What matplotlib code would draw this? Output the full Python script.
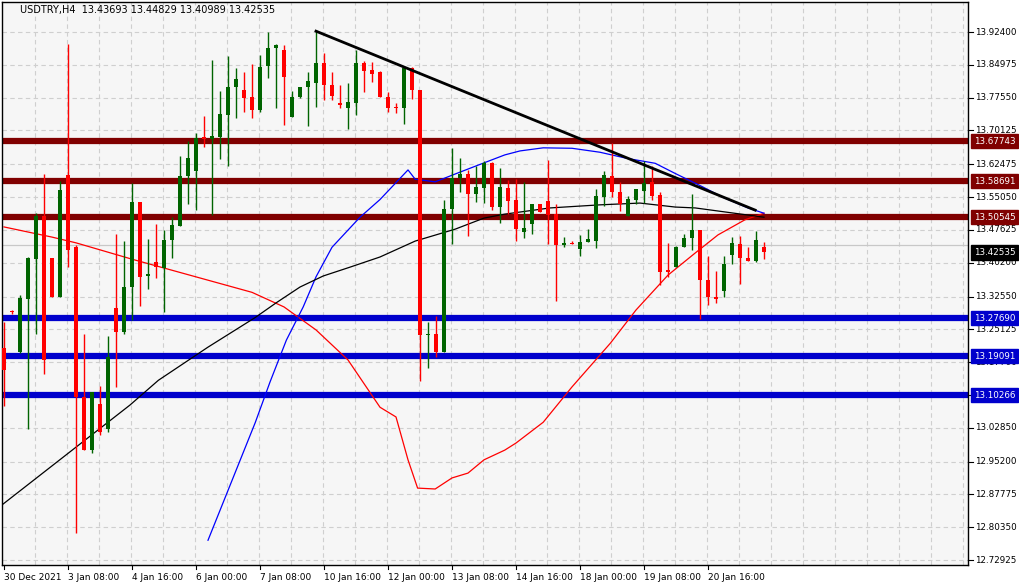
import matplotlib
matplotlib.use("Agg")
import matplotlib.pyplot as plt
import numpy as np

opens = [13.210,13.291,13.201,13.321,13.411,13.508,13.413,13.324,13.600,13.437,
         13.098,12.978,13.082,13.025,13.299,13.246,13.348,13.539,13.373,13.403,
         13.389,13.453,13.486,13.598,13.609,13.687,13.682,13.687,13.736,13.799,
         13.793,13.776,13.747,13.847,13.889,13.883,13.731,13.776,13.799,13.809,
         13.853,13.804,13.763,13.753,13.763,13.853,13.838,13.833,13.776,13.753,
         13.753,13.842,13.793,13.238,13.241,13.199,13.524,13.594,13.602,13.557,
         13.570,13.627,13.527,13.570,13.544,13.472,13.490,13.535,13.542,13.512,
         13.441,13.447,13.433,13.448,13.452,13.551,13.599,13.563,13.508,13.544,
         13.565,13.585,13.555,13.386,13.392,13.438,13.457,13.476,13.364,13.325,
         13.339,13.419,13.444,13.412,13.407,13.43693]
highs = [13.269,13.295,13.329,13.414,13.514,13.602,13.413,13.588,13.897,13.442,
         13.240,13.110,13.123,13.236,13.467,13.452,13.583,13.539,13.456,13.490,
         13.476,13.506,13.643,13.677,13.696,13.734,13.861,13.791,13.870,13.842,
         13.833,13.851,13.872,13.923,13.898,13.894,13.791,13.800,13.833,13.929,
         13.877,13.833,13.804,13.809,13.883,13.859,13.857,13.835,13.789,13.763,
         13.845,13.845,13.793,13.267,13.282,13.544,13.661,13.638,13.612,13.621,
         13.632,13.629,13.617,13.589,13.591,13.585,13.535,13.535,13.634,13.535,
         13.461,13.452,13.465,13.478,13.568,13.609,13.674,13.585,13.554,13.568,
         13.633,13.621,13.563,13.447,13.440,13.467,13.557,13.476,13.417,13.384,
         13.417,13.461,13.462,13.437,13.474,13.44829]
lows = [13.078,13.286,13.198,13.025,13.240,13.150,13.324,13.324,13.393,12.791,
        12.978,12.971,13.012,13.020,13.120,13.240,13.272,13.305,13.343,13.367,
        13.291,13.413,13.484,13.535,13.521,13.665,13.509,13.637,13.621,13.729,
        13.744,13.729,13.744,13.821,13.753,13.713,13.731,13.774,13.711,13.755,
        13.770,13.770,13.753,13.705,13.736,13.789,13.812,13.776,13.744,13.741,
        13.717,13.772,13.134,13.163,13.188,13.199,13.444,13.561,13.462,13.540,
        13.538,13.521,13.493,13.512,13.452,13.459,13.467,13.517,13.444,13.316,
        13.438,13.444,13.417,13.448,13.435,13.530,13.550,13.520,13.508,13.535,
        13.538,13.544,13.352,13.370,13.392,13.438,13.431,13.275,13.306,13.312,
        13.324,13.399,13.354,13.407,13.404,13.40989]
closes = [13.159,13.290,13.323,13.413,13.508,13.183,13.324,13.566,13.431,13.098,
          12.978,13.110,13.019,13.189,13.246,13.348,13.539,13.369,13.376,13.392,
          13.454,13.487,13.599,13.638,13.685,13.683,13.689,13.738,13.800,13.818,
          13.774,13.747,13.844,13.889,13.894,13.823,13.778,13.800,13.813,13.853,
          13.804,13.779,13.758,13.765,13.853,13.836,13.830,13.778,13.753,13.752,
          13.842,13.793,13.238,13.240,13.199,13.524,13.594,13.603,13.557,13.573,
          13.627,13.527,13.573,13.542,13.478,13.480,13.535,13.517,13.511,13.441,
          13.447,13.444,13.450,13.455,13.553,13.600,13.561,13.536,13.546,13.568,
          13.583,13.554,13.382,13.382,13.438,13.457,13.476,13.363,13.324,13.321,
          13.399,13.447,13.413,13.407,13.453,13.42535]

red_ma_x = [0,6,9,16,31,35,39,43,47,49,50.5,51.7,53.9,56,58,60,62.6,64,67.4,71,75.8,79,83,86.4,89.25,92.6,95]
red_ma_y = [13.483,13.460,13.447,13.410,13.335,13.302,13.250,13.182,13.075,13.053,12.956,12.892,12.890,12.915,12.926,12.956,12.978,12.994,13.041,13.121,13.220,13.295,13.374,13.424,13.465,13.499,13.514]
blue_ma_x = [25.5,31.4,33.25,35.3,37.4,39,41,44.5,47,50.5,51.4,53.9,56,60,62.6,64.5,67.4,71,74.5,77.9,79.5,81.4,83.9,87.3,89.75,93,95]
blue_ma_y = [12.774,13.040,13.132,13.227,13.302,13.370,13.437,13.505,13.545,13.612,13.591,13.585,13.600,13.628,13.646,13.655,13.662,13.661,13.652,13.638,13.633,13.627,13.604,13.574,13.551,13.526,13.514]
black_ma_x = [-0.25,15.75,19.3,25.5,31.4,34,37,39.9,43.25,47,51.4,56.4,60,62.6,68.25,74.5,79.5,83.9,86.4,95]
black_ma_y = [12.854,13.080,13.136,13.211,13.278,13.311,13.347,13.372,13.392,13.415,13.451,13.478,13.503,13.512,13.526,13.533,13.537,13.528,13.526,13.505]

trend_x = [39, 93.9]
trend_y = [13.926, 13.521]

res_levels = [13.67743, 13.58691, 13.50545]
sup_levels = [13.27690, 13.19091, 13.10266]
bid_level = 13.442
last_price = 13.42535

yticks = [13.92400,13.84975,13.77550,13.70125,13.62475,13.55050,13.47625,13.40200,
          13.32550,13.25125,13.17700,13.10275,13.02850,12.95200,12.87775,12.80350,12.72925]
xtick_idx = [0,8,16,24,32,40,48,56,64,72,80,88]
xtick_labels = ["30 Dec 2021","3 Jan 08:00","4 Jan 16:00","6 Jan 00:00","7 Jan 08:00",
                "10 Jan 16:00","12 Jan 00:00","13 Jan 08:00","14 Jan 16:00","18 Jan 00:00",
                "19 Jan 08:00","20 Jan 16:00"]

W, H = 1020, 584
fig = plt.figure(figsize=(W/100, H/100), dpi=100, facecolor="white")
ax = fig.add_axes([2/W, (H-565)/H, 966/W, 563/H])
ax.set_facecolor("#f6f6f6")
ax.set_xlim(-0.25, 120.5)
ax.set_ylim(12.718, 13.992)

for yt in yticks:
    ax.axhline(yt, color="#cfcfcf", lw=0.8, ls=(0, (4, 3)), zorder=0)
for xg in np.arange(4, 121, 4):
    ax.axvline(xg - 0.1, color="#cfcfcf", lw=0.8, ls=(0, (4, 3)), zorder=0)
ax.axhline(bid_level, color="#c8c8c8", lw=0.9, zorder=0)

for lv in res_levels:
    ax.axhline(lv, color="#800000", lw=4.5, zorder=1)
for lv in sup_levels:
    ax.axhline(lv, color="#0000cc", lw=4.5, zorder=1)

ax.plot(red_ma_x, red_ma_y, color="red", lw=0.9, zorder=2)
ax.plot(blue_ma_x, blue_ma_y, color="blue", lw=0.9, zorder=2)
ax.plot(black_ma_x, black_ma_y, color="black", lw=0.9, zorder=2)
ax.plot(trend_x, trend_y, color="black", lw=2, zorder=4)

for i, (o, h, l, c) in enumerate(zip(opens, highs, lows, closes)):
    col = "#006400" if c >= o else "#ff0000"
    ax.vlines(i, l, h, color=col, lw=1, zorder=3)
    bot = min(o, c); ht = max(abs(c - o), 0.002)
    ax.bar(i, ht, bottom=bot, width=0.62, color=col, edgecolor=col, lw=0, zorder=3)

ax.set_yticks([])
ax.set_xticks([])
for s in ax.spines.values():
    s.set_linewidth(1)
    s.set_color("black")

for yt in yticks:
    ax.annotate(f"{yt:.5f}", xy=(1, yt), xycoords=("axes fraction", "data"),
                xytext=(5, 0), textcoords="offset points", va="center", ha="left",
                fontsize=6.3, color="black", annotation_clip=False, zorder=5)
    ax.plot([120.5, 121.1], [yt, yt], color="black", lw=0.8, clip_on=False)
for lv, bg in [(v, "#800000") for v in res_levels] + [(v, "#0000cc") for v in sup_levels] + [(last_price, "black")]:
    ax.annotate(f"{lv:.5f}", xy=(1, lv), xycoords=("axes fraction", "data"),
                xytext=(4, 0), textcoords="offset points", va="center", ha="left",
                fontsize=6.3, color="white", annotation_clip=False, zorder=10,
                bbox=dict(boxstyle="square,pad=0.3", fc=bg, ec=bg))

for idx, lab in zip(xtick_idx, xtick_labels):
    ax.plot([idx, idx], [12.718, 12.708], color="black", lw=0.8, clip_on=False)
    ax.text(idx, 12.700, lab, fontsize=6.5, ha="left", va="top", color="black")

ax.text(2.0, 13.975, "USDTRY,H4  13.43693 13.44829 13.40989 13.42535",
        fontsize=7, ha="left", va="center", color="black")

fig.savefig("out.png", dpi=100, facecolor="white")
